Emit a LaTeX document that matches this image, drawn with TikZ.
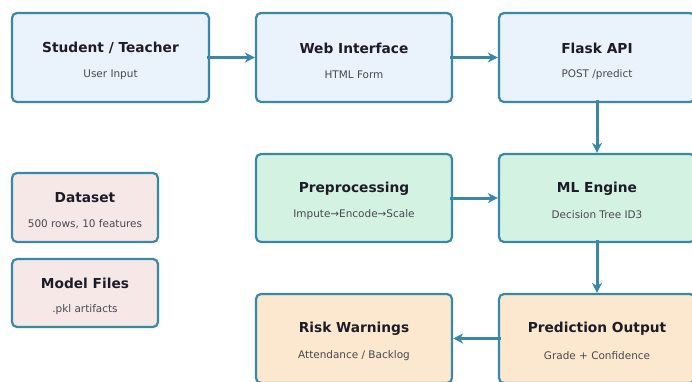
\documentclass[tikz,border=0pt]{standalone}
\usepackage{fontspec}
\setmainfont{DejaVu Sans}
\usetikzlibrary{arrows.meta,calc}

\definecolor{edge}{RGB}{56,136,168}
\definecolor{fillblue}{RGB}{234,242,251}
\definecolor{fillgreen}{RGB}{212,242,225}
\definecolor{fillpink}{RGB}{247,232,232}
\definecolor{fillpeach}{RGB}{251,232,206}
\definecolor{titlecol}{RGB}{28,28,40}
\definecolor{subcol}{RGB}{72,72,78}

\tikzset{
  box/.style={draw=edge, line width=2.2bp, rounded corners=5bp, inner sep=0pt},
  bigbox/.style={box, minimum width=197bp, minimum height=89bp},
  smallbox/.style={box, minimum width=146bp, minimum height=69bp},
  title/.style={font=\fontsize{13.8}{16}\selectfont\bfseries, text=titlecol, inner sep=0pt},
  subtitle/.style={font=\fontsize{10.5}{12}\selectfont, text=subcol, inner sep=0pt},
  flow/.style={draw=edge, line width=3bp, -{Stealth[length=10bp,width=10bp,inset=3bp]}}
}

\newcommand{\labelbox}[3]{%
  \node[title] (#1-t) at ($(#1.center)+(0,-9.5)$) {#2};
  \node[subtitle] (#1-s) at ($(#1.center)+(0,17)$) {#3};
}

\begin{document}
\begin{tikzpicture}[x=1bp,y=-1bp]
  \useasboundingbox (0,0) rectangle (692,381);

  % top row: user side and API
  \node[bigbox, fill=fillblue] (user) at (110.5,57.5) {};
  \node[bigbox, fill=fillblue, minimum width=196bp] (web) at (354,57.5) {};
  \node[bigbox, fill=fillblue, minimum width=196bp] (api) at (597,57.5) {};

  % middle row: processing and model
  \node[bigbox, fill=fillgreen, minimum width=196bp, minimum height=88bp] (prep) at (354,198) {};
  \node[bigbox, fill=fillgreen, minimum width=196bp, minimum height=88bp] (ml) at (597,198) {};

  % storage
  \node[smallbox, fill=fillpink] (data) at (85,207.5) {};
  \node[smallbox, fill=fillpink, minimum height=68bp] (files) at (85,293) {};

  % bottom row: results
  \node[bigbox, fill=fillpeach, minimum width=196bp] (risk) at (354,338.5) {};
  \node[bigbox, fill=fillpeach, minimum width=196bp] (pred) at (597,338.5) {};

  \labelbox{user}{Student / Teacher}{User Input}
  \labelbox{web}{Web Interface}{HTML Form}
  \labelbox{api}{Flask API}{POST /predict}
  \labelbox{prep}{Preprocessing}{Impute→Encode→Scale}
  \labelbox{ml}{ML Engine}{Decision Tree ID3}
  \labelbox{data}{Dataset}{500 rows, 10 features}
  \labelbox{files}{Model Files}{.pkl artifacts}
  \labelbox{risk}{Risk Warnings}{Attendance / Backlog}
  \labelbox{pred}{Prediction Output}{Grade + Confidence}

  % data flow
  \draw[flow] ($(user.east)+(-3,0)$) -- (web.west);
  \draw[flow] ($(web.east)+(-3,0)$) -- (api.west);
  \draw[flow] ($(api.south)+(0,-3)$) -- (ml.north);
  \draw[flow] ($(prep.east)+(-3,0)$) -- (ml.west);
  \draw[flow] ($(ml.south)+(0,-3)$) -- (pred.north);
  \draw[flow] ($(pred.west)+(3,0)$) -- (risk.east);
\end{tikzpicture}
\end{document}
